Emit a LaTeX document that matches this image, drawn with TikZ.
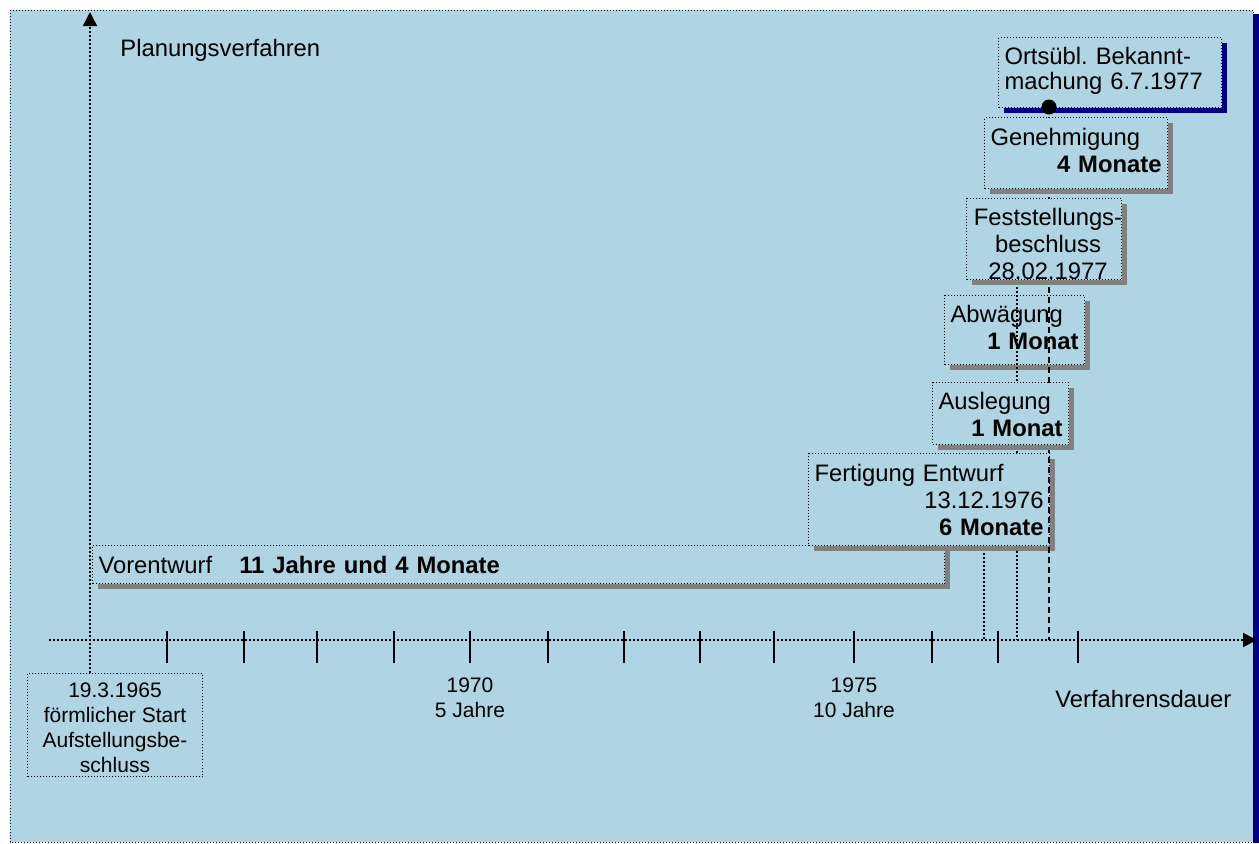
\documentclass[tikz,border=0pt]{standalone}
\usepackage{fontspec}
\setmainfont{Liberation Sans}
\usetikzlibrary{arrows.meta,shadows}

\definecolor{bgblue}{RGB}{175,212,227}
\definecolor{shgray}{RGB}{128,128,128}
\definecolor{shnavy}{RGB}{0,0,128}

\newcommand{\bigtxt}{\fontsize{11.9}{13.5}\selectfont}
\newcommand{\smalltxt}{\fontsize{10.5}{12.5}\selectfont}
\frenchspacing

\begin{document}
\begin{tikzpicture}[x=0.5pt,y=-0.5pt,
  dotline/.style={line width=0.5pt,dash pattern=on 0.5pt off 1pt},
  markline/.style={line width=0.8pt,dash pattern=on 0.8pt off 1.2pt},
  axisline/.style={markline,-{Triangle[length=7pt,width=7pt]}},
  dashline/.style={line width=1pt,dash pattern=on 3pt off 2pt},
  tickmark/.style={line width=1pt},
  phasebox/.style={draw,dotline,fill=bgblue,inner sep=0pt,anchor=north west,
    drop shadow={shadow xshift=2.5pt,shadow yshift=-2.5pt,fill=#1,opacity=1}},
  phasebox/.default=shgray,
  phasetext/.style={inner sep=0pt,font=\bigtxt,align=left},
  axislabel/.style={inner sep=0pt,font=\smalltxt,align=center}]
\useasboundingbox (0,0) rectangle (1259,843);

% frame
\fill[shnavy] (1253,14) rectangle (1259,843);
\draw[dotline,fill=bgblue] (10,10) rectangle (1253,842);

% start of the procedure
\node[draw,dotline,fill=bgblue,inner sep=0pt,anchor=north west,
  minimum width=87.5pt,minimum height=51.5pt] (start) at (27,673) {};
\node[axislabel,yshift=-1.5pt] (starttxt) at (start.center)
  {19.3.1965\\förmlicher Start\\Aufstellungsbe-\\schluss};

% axes
\coordinate (origin) at (90,640);
\coordinate (ytop) at (90,12);
\coordinate (xstart) at (49,640);
\coordinate (xend) at (1257,640);
\draw[axisline] (start.north -| origin) -- (ytop);
\draw[axisline] (xstart) -- (xend);
\foreach \t in {167,244,317,394,470,548,624,700,774,854,932,998,1078}
  \draw[tickmark] (\t,631) -- (\t,663);

\node[axislabel] (y1970) at (470,698) {1970\\5 Jahre};
\node[axislabel] (y1975) at (854,698) {1975\\10 Jahre};
\node[inner sep=0pt,font=\bigtxt,anchor=base west] (dauer) at (1055,707) {Verfahrensdauer};
\node[inner sep=0pt,font=\bigtxt,anchor=base west] (planung) at (120,56) {Planungsverfahren};

% phases
\node[phasebox,minimum width=426pt,minimum height=19pt] (vor) at (92,545) {};
\node[phasetext,text width=420pt] (vortxt) at (vor.center)
  {Vorentwurf\hspace{13.5pt}\textbf{11 Jahre und 4 Monate}};

\node[phasebox,minimum width=70pt,minimum height=34.5pt] (abw) at (944,295) {};
\node[phasetext,text width=64pt,yshift=1.5pt] (abwtxt) at (abw.center)
  {Abwägung\\\hspace*{\fill}\textbf{1 Monat}};

\coordinate (m1top) at (984,545);
\coordinate (m1) at (984,640);
\coordinate (m2top) at (1017,279);
\coordinate (m2) at (1017,640);
\draw[markline] (m1top) -- (m1);
\draw[markline] (m2top) -- (m2);

\node[phasebox,minimum width=120.5pt,minimum height=46pt] (fert) at (808,453) {};
\node[phasetext,text width=114.5pt] (ferttxt) at (fert.center)
  {Fertigung Entwurf\\\hspace*{\fill}13.12.1976\\\hspace*{\fill}\textbf{6 Monate}};

\coordinate (pub) at (1049,107);
\draw[dashline] (pub) -- (pub |- m1);

\node[phasebox,minimum width=68pt,minimum height=31pt] (ausl) at (932,382) {};
\node[phasetext,text width=62pt,yshift=-0.5pt] (ausltxt) at (ausl.center)
  {Auslegung\\\hspace*{\fill}\textbf{1 Monat}};

\node[phasebox,minimum width=77.5pt,minimum height=40.5pt] (fest) at (966,198) {};
\node[phasetext,align=center,xshift=2pt,yshift=-2.5pt] (festtxt) at (fest.center)
  {Feststellungs-\\beschluss\\28.02.1977};

\node[phasebox,minimum width=91.5pt,minimum height=35.5pt] (gen) at (984,117) {};
\node[phasetext,text width=85.5pt,yshift=1.5pt] (gentxt) at (gen.center)
  {Genehmigung\\\hspace*{\fill}\textbf{4 Monate}};

\node[phasebox=shnavy,minimum width=111.5pt,minimum height=35pt] (bek) at (998,37) {};
\node[phasetext,text width=105.5pt,yshift=0.75pt,font=\fontsize{11.9}{12.75}\selectfont]
  (bektxt) at (bek.center) {Ortsübl. Bekannt-\\machung 6.7.1977};
\node[circle,fill=black,inner sep=0pt,minimum size=7.5pt] (pubdot) at (pub) {};
\end{tikzpicture}
\end{document}
